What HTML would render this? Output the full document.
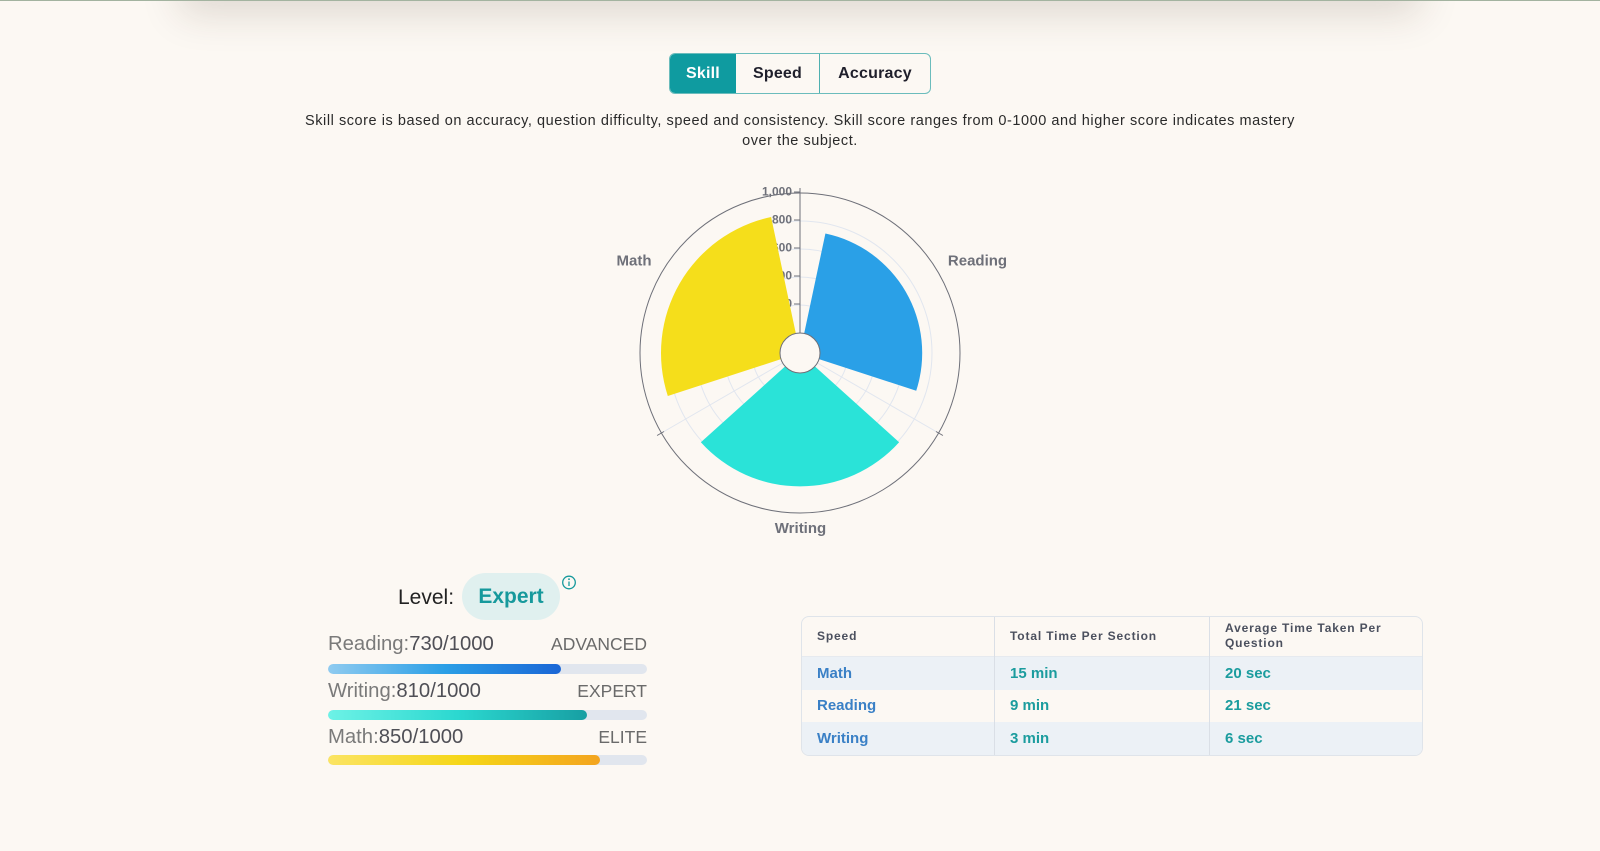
<!DOCTYPE html>
<html>
<head>
<meta charset="utf-8">
<style>
  html,body{margin:0;padding:0;}
  body{width:1600px;height:851px;overflow:hidden;background:#fcf8f3;position:relative;font-family:"Liberation Sans",sans-serif;}
  .abs{position:absolute;}
  .topline{position:absolute;left:0;top:0;width:1600px;height:1px;background:#a3b3a0;}
  .card{position:absolute;left:180px;width:1240px;top:-60px;height:60px;background:#fcf8f3;box-shadow:0 14px 40px rgba(60,40,20,0.15);}
  .tabs{position:absolute;left:669px;top:53px;width:260px;height:39px;border:1px solid #6bbcbc;border-radius:6px;overflow:hidden;display:flex;}
  .tab{height:39px;line-height:39px;text-align:center;font-weight:bold;font-size:16px;color:#1f1f2b;letter-spacing:0.2px;}
  .desc{position:absolute;left:0;width:1600px;text-align:center;font-size:14.5px;color:#2a2a2a;letter-spacing:0.55px;white-space:nowrap;line-height:20px;}
  .lbl{position:absolute;font-size:20.3px;line-height:20px;color:#7a7a7a;white-space:nowrap;}
  .lbl b{font-weight:normal;color:#4f4f56;}
  .rt{position:absolute;font-size:17.5px;line-height:20px;color:#6a6a6a;white-space:nowrap;text-align:right;}
  .track{position:absolute;left:328px;width:319px;height:10px;border-radius:5px;background:#e1e6ee;overflow:hidden;}
  .fill{height:10px;border-radius:5px;}
  .tbl{position:absolute;left:801px;top:616px;width:620px;height:138px;border:1px solid #dfe4ea;border-radius:8px;overflow:hidden;}
  .row{position:absolute;left:0;width:620px;}
  .cell{position:absolute;white-space:nowrap;}
  .hd{font-size:12px;font-weight:bold;color:#4b505e;letter-spacing:0.85px;line-height:15px;}
  .bd{font-size:15px;font-weight:bold;line-height:20px;}
  .vline{position:absolute;top:0;width:1px;height:138px;background:#dadfe6;}
</style>
</head>
<body>
<div class="card"></div>
<div class="topline"></div>

<div class="tabs">
  <div class="tab" style="width:66px;background:#0f9ba0;color:#fff;">Skill</div>
  <div class="tab" style="width:83px;border-right:1px solid #4fb0b0;">Speed</div>
  <div class="tab" style="width:110px;">Accuracy</div>
</div>

<div class="desc" style="top:111px;">Skill score is based on accuracy, question difficulty, speed and consistency. Skill score ranges from 0-1000 and higher score indicates mastery</div>
<div class="desc" style="top:131px;">over the subject.</div>

<svg class="abs" style="left:0;top:0;" width="1600" height="851" viewBox="0 0 1600 851">
  <g fill="none" stroke="#e1e6ef" stroke-width="1">
    <circle cx="800" cy="353" r="48"/>
    <circle cx="800" cy="353" r="76"/>
    <circle cx="800" cy="353" r="104"/>
    <circle cx="800" cy="353" r="132"/>
    <line x1="817.32" y1="363" x2="938.56" y2="433"/>
    <line x1="782.68" y1="363" x2="661.44" y2="433"/>
  </g>
  <g font-family="Liberation Sans, sans-serif" font-size="12" font-weight="bold" fill="#6e7079" text-anchor="end">
    <text x="792" y="195.5">1,000</text>
    <text x="792" y="223.5">800</text>
    <text x="792" y="251.5">600</text>
    <text x="792" y="279.5">400</text>
    <text x="792" y="307.5">200</text>
  </g>
  <g stroke="#6e7079" stroke-width="1">
    <line x1="800" y1="188" x2="800" y2="333"/>
    <line x1="794" y1="192" x2="800" y2="192"/>
    <line x1="794" y1="220" x2="800" y2="220"/>
    <line x1="794" y1="248" x2="800" y2="248"/>
    <line x1="794" y1="276" x2="800" y2="276"/>
    <line x1="794" y1="304" x2="800" y2="304"/>
  </g>
  <path d="M 825.41 233.48 A 122.2 122.2 0 0 1 916.22 390.76 L 819.02 359.18 A 20 20 0 0 0 804.16 333.44 Z" fill="#2aa0e7"/>
  <path d="M 899.13 442.26 A 133.4 133.4 0 0 1 700.87 442.26 L 785.14 366.38 A 20 20 0 0 0 814.86 366.38 Z" fill="#2ae3d8"/>
  <path d="M 667.80 395.95 A 139 139 0 0 1 771.10 217.04 L 795.84 333.44 A 20 20 0 0 0 780.98 359.18 Z" fill="#f5de1b"/>
  <circle cx="800" cy="353" r="20" fill="#fcf8f3" stroke="#6e7079" stroke-width="1"/>
  <circle cx="800" cy="353" r="160" fill="none" stroke="#6e7079" stroke-width="1"/>
  <g stroke="#6e7079" stroke-width="1">
    <line x1="936.0" y1="431.5" x2="942.9" y2="435.5"/>
    <line x1="664.0" y1="431.5" x2="657.1" y2="435.5"/>
  </g>
  <g font-family="Liberation Sans, sans-serif" font-size="15" font-weight="bold" fill="#6e7079" text-anchor="middle">
    <text x="634" y="265.5">Math</text>
    <text x="977.5" y="265.5">Reading</text>
    <text x="800.5" y="533">Writing</text>
  </g>
  <!-- info icon -->
  <circle cx="569" cy="582.5" r="6.3" fill="none" stroke="#16999c" stroke-width="1.3"/>
  <line x1="569" y1="581.5" x2="569" y2="586" stroke="#16999c" stroke-width="1.3"/>
  <circle cx="569" cy="579.2" r="0.9" fill="#16999c"/>
</svg>

<!-- Level -->
<div class="abs" style="left:398px;top:586px;font-size:21px;line-height:24px;color:#222;">Level:</div>
<div class="abs" style="left:462px;top:573px;width:98px;height:47px;border-radius:24px;background:#e0f0ef;"></div>
<div class="abs" style="left:462px;top:585px;width:98px;text-align:center;font-size:21px;line-height:24px;font-weight:bold;color:#16999c;">Expert</div>

<!-- bars -->
<div class="lbl" style="left:328px;top:634px;">Reading:<b>730/1000</b></div>
<div class="rt" style="left:537px;width:110px;top:634px;">ADVANCED</div>
<div class="track" style="top:664px;"><div class="fill" style="width:233px;background:linear-gradient(90deg,#8fcbf0 0%,#2b9fe6 50%,#1a66d6 100%);"></div></div>

<div class="lbl" style="left:328px;top:680.5px;">Writing:<b>810/1000</b></div>
<div class="rt" style="left:537px;width:110px;top:680.5px;">EXPERT</div>
<div class="track" style="top:709.5px;"><div class="fill" style="width:259px;background:linear-gradient(90deg,#6df2e6 0%,#2bd8d0 50%,#179fa3 100%);"></div></div>

<div class="lbl" style="left:328px;top:726.5px;">Math:<b>850/1000</b></div>
<div class="rt" style="left:537px;width:110px;top:726.5px;">ELITE</div>
<div class="track" style="top:755px;"><div class="fill" style="width:272px;background:linear-gradient(90deg,#fbe463 0%,#f5d617 50%,#f3a41f 100%);"></div></div>

<!-- table -->
<div class="tbl">
  <div class="row" style="top:39px;height:34px;background:#ecf1f6;"></div>
  <div class="row" style="top:105px;height:34px;background:#ecf1f6;"></div>
  <div class="row" style="top:39px;height:1px;background:#e6eaef;"></div>
  <div class="vline" style="left:192px;"></div>
  <div class="vline" style="left:407px;"></div>
  <div class="cell hd" style="left:15px;top:12px;">Speed</div>
  <div class="cell hd" style="left:208px;top:12px;">Total Time Per Section</div>
  <div class="cell hd" style="left:423px;top:4px;">Average Time Taken Per<br>Question</div>

  <div class="cell bd" style="left:15px;top:47px;color:#3a80c6;">Math</div>
  <div class="cell bd" style="left:208px;top:47px;color:#1b9c9e;">15 min</div>
  <div class="cell bd" style="left:423px;top:47px;color:#1b9c9e;">20 sec</div>

  <div class="cell bd" style="left:15px;top:79px;color:#3a80c6;">Reading</div>
  <div class="cell bd" style="left:208px;top:79px;color:#1b9c9e;">9 min</div>
  <div class="cell bd" style="left:423px;top:79px;color:#1b9c9e;">21 sec</div>

  <div class="cell bd" style="left:15px;top:112px;color:#3a80c6;">Writing</div>
  <div class="cell bd" style="left:208px;top:112px;color:#1b9c9e;">3 min</div>
  <div class="cell bd" style="left:423px;top:112px;color:#1b9c9e;">6 sec</div>
</div>
</body>
</html>
